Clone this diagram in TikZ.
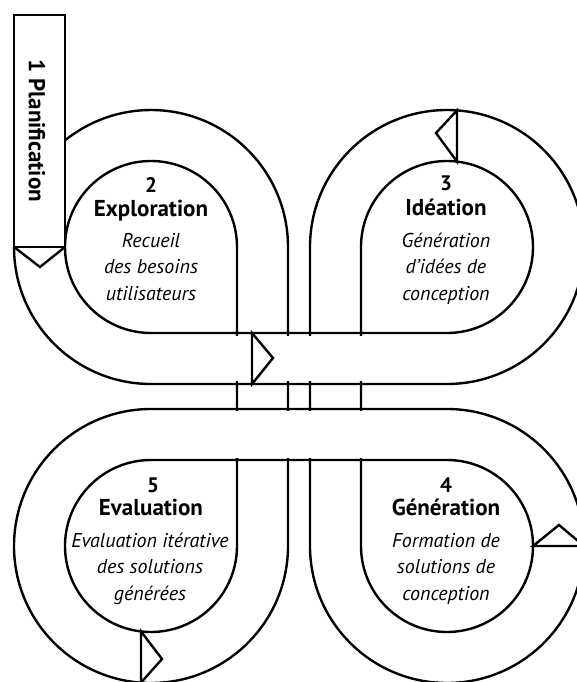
\documentclass[tikz,border=0pt]{standalone}
\usepackage{fontspec}
\setmainfont{PT Sans}
\begin{document}
\begin{tikzpicture}
[x=1pt, y=1pt, line width=2.4pt, line join=miter,
 numero/.style={anchor=base, font=\bfseries\fontsize{21}{24}\selectfont},
 titre/.style={anchor=base, font=\bfseries\fontsize{23}{24}\selectfont},
 legende/.style={anchor=base, align=center, font=\itshape\fontsize{20}{26.5}\selectfont}]
\useasboundingbox (0,0) rectangle (577,-682);
% outer edge of the band
\draw (14,-247) arc [start angle=180, end angle=270, radius=137] -- (447,-384) arc [start angle=-90, end angle=180, radius=137] -- (310,-546) arc [start angle=180, end angle=450, radius=137] -- (151,-409) arc [start angle=90, end angle=360, radius=137] -- (288,-247) arc [start angle=0, end angle=128.9, radius=137];
% inner edge of the band
\draw (237,-247) arc [start angle=0, end angle=270, radius=86] -- (447,-333) arc [start angle=-90, end angle=180, radius=86] -- (361,-546) arc [start angle=180, end angle=450, radius=86] -- (151,-460) arc [start angle=90, end angle=360, radius=86] -- cycle;
% crossings
\fill [white] (228,-335.6) rectangle (370,-381.4);
\fill [white] (228,-411.4) rectangle (370,-457.6);
% planification
\draw [fill=white] (14,-15) rectangle (65,-247);
\node [rotate=-90, font=\bfseries\fontsize{23}{24}\selectfont] (plan) at (37,-131) {1 Planification};
% arrows
\draw (14,-247) -- (40,-267) -- (65,-247);
\draw (252,-333) -- (252,-384) -- (273,-358) -- cycle;
\draw (457,-110.4) -- (457,-161.6) -- (436,-133) -- cycle;
\draw (533,-546) -- (584,-546) -- (559,-525) -- cycle;
\draw (141,-631.4) -- (141,-682.6) -- (162,-659) -- cycle;
% texts (legend anchored on its last line)
\node [numero] (num2) at (151,-192) {2};
\node [titre] (titre2) at (151,-216) {Exploration};
\node [legende] (leg2) at (151,-300) {Recueil\\des besoins\\utilisateurs};
\node [numero] (num3) at (446,-190) {3};
\node [titre] (titre3) at (446,-215) {Idéation};
\node [legende] (leg3) at (446,-300) {Génération\\d’idées de\\conception};
\node [numero] (num4) at (446,-492) {4};
\node [titre] (titre4) at (446,-515) {Génération};
\node [legende] (leg4) at (446,-600) {Formation de\\solutions de\\conception};
\node [numero] (num5) at (153,-492) {5};
\node [titre] (titre5) at (151,-515) {Evaluation};
\node [legende] (leg5) at (150,-600) {Evaluation itérative\\des solutions\\générées};
\end{tikzpicture}
\end{document}
